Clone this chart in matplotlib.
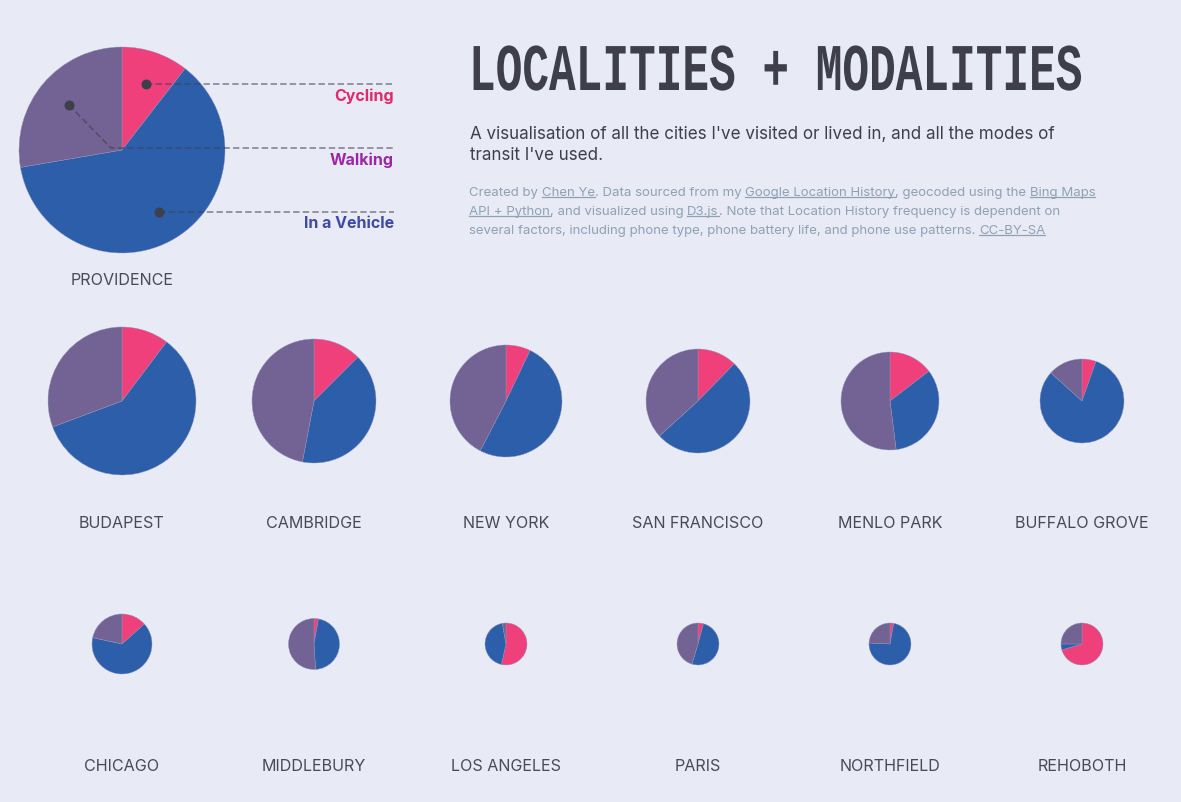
import matplotlib
matplotlib.use('Agg')
import matplotlib.pyplot as plt
from matplotlib.patheffects import AbstractPathEffect
from matplotlib.transforms import Affine2D

# cycling, vehicle, walking shares (percent)
cities = ['BUDAPEST', 'CAMBRIDGE', 'NEW YORK', 'SAN FRANCISCO', 'MENLO PARK', 'BUFFALO GROVE',
          'CHICAGO', 'MIDDLEBURY', 'LOS ANGELES', 'PARIS', 'NORTHFIELD', 'REHOBOTH']
cycling = [10.3, 12.5, 7.1, 12.3, 14.6, 5.4, 13.4, 2.8, 53.5, 4.2, 2.8, 70.5]
vehicle = [59.0, 40.5, 50.5, 51.0, 33.4, 81.3, 65.0, 46.2, 43.7, 50.5, 73.0, 4.5]
walking = [30.7, 47.0, 42.4, 36.7, 52.0, 13.3, 21.6, 51.0, 2.8, 45.3, 24.2, 25.0]
radii = [74, 62, 56, 52, 49, 42, 30, 25.5, 21, 21, 21, 21]

main_city = 'PROVIDENCE'
main_shares = [10.5, 61.8, 27.7]
main_radius = 103
modes = ['Cycling', 'Walking', 'In a Vehicle']
mode_colors = ['#e0296b', '#9b27a8', '#3f4aa5']

BG = '#e8ebf6'
PIE_COLORS = ['#f0407b', '#2c5eaa', '#736294']
DARK = '#3f3f4c'
LABEL = '#4a4a55'
MUTED = '#8fa1b3'
SANS = ['Inter', 'DejaVu Sans']


class Stretch(AbstractPathEffect):
    # make a text taller about its baseline, no condensed font is installed
    def __init__(self, sy, y0):
        super().__init__()
        self.sy = sy
        self.y0 = y0

    def draw_path(self, renderer, gc, tpath, affine, rgbFace=None):
        a = affine + Affine2D().translate(0, -self.y0).scale(1, self.sy).translate(0, self.y0)
        renderer.draw_path(gc, tpath, a, rgbFace)


fig = plt.figure(figsize=(11.81, 8.03), dpi=100, facecolor=BG)
ax = fig.add_axes([0, 0, 1, 1])


def Y(py):
    return 802 - py


def draw_pie(shares, cx, cy, r):
    ax.pie(shares, colors=PIE_COLORS, center=(cx, Y(cy)), radius=r, startangle=90,
           counterclock=False, wedgeprops=dict(linewidth=0.3, edgecolor='#8f93b8'))


draw_pie(main_shares, 122, 150, main_radius)
ax.text(122, Y(279.5), main_city, ha='center', va='center', fontsize=11.6, color=LABEL, family=SANS)

xs = [122, 314, 506, 698, 890, 1082]
for i, city in enumerate(cities):
    row = i // 6
    cx = xs[i % 6]
    cy = 401 if row == 0 else 644
    draw_pie([cycling[i], vehicle[i], walking[i]], cx, cy, radii[i])
    ax.text(cx, Y(523 if row == 0 else 766), city, ha='center', va='center',
            fontsize=11.6, color=LABEL, family=SANS)

# annotation leaders
leaders = [([146, 392], [84, 84]), ([69, 111, 394], [105, 148, 148]), ([159, 394], [212, 212])]
dots = [(146, 84), (69, 105), (159, 212)]
for lx, ly in leaders:
    ax.plot(lx, [Y(v) for v in ly], color='#3f3f4c', alpha=0.62, lw=1.15, ls=(0, (4, 2)))
for dx, dy in dots:
    ax.plot(dx, Y(dy), 'o', color=DARK, ms=7.2, mew=0)
for name, col, py in zip(modes, mode_colors, [95, 159, 223]):
    ax.text(394, Y(py), name, ha='right', va='center', fontsize=11.5, fontweight='bold',
            color=col, family=SANS)

# title, subtitle
ax.text(469, Y(90), 'LOCALITIES + MODALITIES', ha='left', va='baseline', fontsize=32,
        fontweight='bold', color=DARK, family=['Liberation Mono', 'DejaVu Sans'],
        path_effects=[Stretch(1.5, Y(90))])
ax.text(470, Y(133), "A visualisation of all the cities I've visited or lived in, and all the modes of",
        ha='left', va='center', fontsize=12.25, color=DARK, family=SANS)
ax.text(470, Y(155), "transit I've used.", ha='left', va='center', fontsize=12.25, color=DARK, family=SANS)

# credits, (text, is link)
credit_lines = [
    [('Created by ', 0), ('Chen Ye', 1), ('. Data sourced from my ', 0), ('Google Location History', 1),
     (', geocoded using the ', 0), ('Bing Maps', 1)],
    [('API + Python', 1), (', and visualized using ', 0), ('D3.js', 1),
     ('. Note that Location History frequency is dependent on', 0)],
    [('several factors, including phone type, phone battery life, and phone use patterns. ', 0),
     ('CC-BY-SA', 1)],
]
ax.set_xlim(0, 1181)
ax.set_ylim(0, 803)
ax.set_aspect('equal')
ax.axis('off')
renderer = fig.canvas.get_renderer()
for line, py in zip(credit_lines, [191, 210, 229]):
    x = 469
    for chunk, link in line:
        t = ax.text(x, Y(py + 4), chunk, ha='left', va='baseline', fontsize=9.5, color=MUTED, family=SANS)
        w = t.get_window_extent(renderer).width
        if link:
            ax.plot([x, x + w], [Y(py + 6)] * 2, color=MUTED, lw=0.9)
        x = x + w

ax.set_xlim(0, 1181)
ax.set_ylim(0, 803)
fig.savefig('out.png', dpi=100, facecolor=BG)
